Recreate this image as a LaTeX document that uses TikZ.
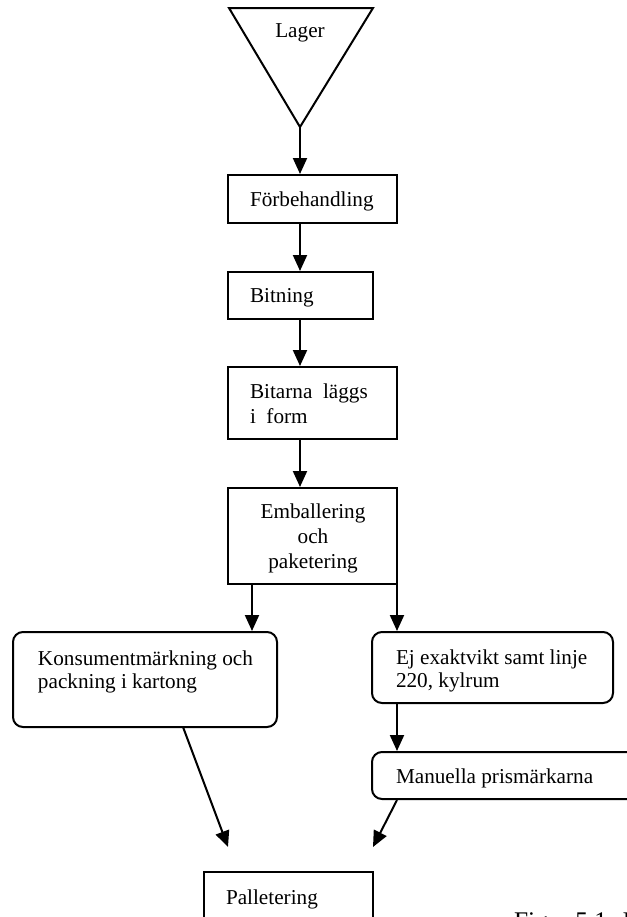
\documentclass[tikz,border=0pt]{standalone}
\usepackage{fontspec}
\setmainfont{Liberation Serif}
\usetikzlibrary{arrows.meta,calc}
\begin{document}
\begin{tikzpicture}[x=0.5pt,y=-0.5pt,
  line width=1pt,
  flow/.style={-{Triangle[length=8pt,width=7pt]}},
  sqbox/.style={draw,rectangle,inner sep=0pt},
  rbox/.style={draw,rectangle,rounded corners=5pt,inner sep=0pt},
  lbl/.style={inner sep=0pt,anchor=base west,font=\fontsize{10.6pt}{12.5pt}\selectfont},
  clbl/.style={lbl,anchor=base}]
\useasboundingbox (0,0) rectangle (627,917);
\clip (0,0) rectangle (627,917);
% storage triangle
\coordinate (tl) at (229,8);
\coordinate (tr) at (373,8);
\coordinate (apex) at (300,127);
\draw[line join=miter] (tl) -- (tr) -- (apex) -- cycle;
\node[clbl] (lagert) at (300,37) {Lager};
\coordinate (spine) at (300,0);
% boxes
\node[sqbox,minimum width=84.5pt,minimum height=24pt] (forb) at (312.5,199) {};
\node[lbl] (forbt) at (249,206) {Förbehandling};
\node[sqbox,minimum width=72.5pt,minimum height=23.5pt] (bit) at (300.5,295.5) {};
\node[lbl] (bitt) at (249,302) {Bitning};
\node[sqbox,minimum width=84.5pt,minimum height=36pt] (bitarna) at (312.5,403) {};
\node[lbl] (bitarnat1) at (249,398) {Bitarna\ \ läggs};
\node[lbl] (bitarnat2) at (249,423) {i\ \ form};
\node[sqbox,minimum width=84.5pt,minimum height=48pt] (emb) at (312.5,536) {};
\node[clbl] (embt1) at (313,518) {Emballering};
\node[clbl] (embt2) at (313,543) {och};
\node[clbl] (embt3) at (313,568) {paketering};
\node[rbox,minimum width=132pt,minimum height=47.5pt] (kons) at (145,679.5) {};
\node[lbl] (konst1) at (37,665) {Konsumentmärkning och};
\node[lbl] (konst2) at (37,688) {packning i kartong};
\node[rbox,minimum width=120.5pt,minimum height=35.5pt] (ej) at (492.5,667.5) {};
\node[lbl] (ejt1) at (395,664) {Ej exaktvikt samt linje};
\node[lbl] (ejt2) at (395,687) {220, kylrum};
\node[rbox,minimum width=144pt,minimum height=23.5pt] (man) at (516,775.5) {};
\node[lbl] (mant) at (395,783) {Manuella prismärkarna};
\node[sqbox,minimum width=84.5pt,minimum height=24pt] (pall) at (288.5,896) {};
\node[lbl] (pallt) at (225,904) {Palletering};
\node[lbl,font=\fontsize{12.7pt}{15pt}\selectfont] (fig) at (513,929) {Figur 5.1: I};
% connectors
\coordinate (cl) at (252,0);
\coordinate (cr) at (397,0);
\coordinate (konsout) at (183,727);
\coordinate (endl) at (228,847);
\coordinate (endr) at (373,847);
\draw[flow] (apex) -- (forb.north -| spine);
\draw[flow] (forb.south -| spine) -- (bit.north -| spine);
\draw[flow] (bit.south -| spine) -- (bitarna.north -| spine);
\draw[flow] (bitarna.south -| spine) -- (emb.north -| spine);
\draw[flow] (emb.south -| cl) -- (kons.north -| cl);
\draw[flow] (emb.south -| cr) -- (ej.north -| cr);
\draw[flow] (ej.south -| cr) -- (man.north -| cr);
\draw[flow] (konsout) -- (endl);
\draw[flow] (man.south -| cr) -- (endr);
\end{tikzpicture}
\end{document}
